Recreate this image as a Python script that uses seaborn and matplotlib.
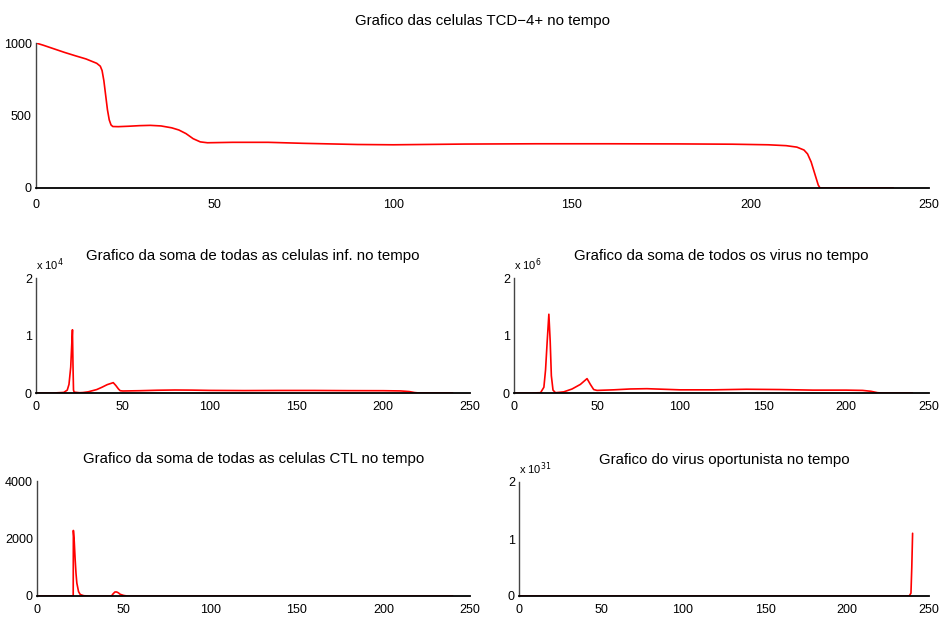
import numpy as np
import pandas as pd
import matplotlib
matplotlib.use("Agg")
import matplotlib.pyplot as plt
import seaborn as sns
from matplotlib.ticker import FuncFormatter

# ---- data ----
t_cd4 = [0, 2, 5, 8, 11, 14, 16, 17, 18, 18.5, 19, 19.5, 20, 20.5, 21, 21.5, 23, 26, 29, 32, 35,
         38, 40, 42, 44, 46, 48, 55, 65, 75, 90, 100, 120, 140, 160, 180, 195, 205, 210, 213,
         215, 216, 217, 218, 219, 219.5, 240]
v_cd4 = [1000, 985, 960, 935, 912, 890, 870, 860, 840, 810, 740, 640, 540, 470, 435, 424, 423, 426,
         430, 432, 428, 415, 400, 375, 340, 318, 312, 315, 315, 308, 300, 298, 303, 305, 305,
         304, 302, 298, 292, 282, 262, 235, 180, 100, 20, 0, 0]

t_inf = [0, 10, 16, 18, 19, 20, 20.6, 21, 21.3, 21.6, 22, 25, 27, 30, 35, 38, 41, 44.5, 46,
         47.5, 48.5, 50, 60, 70, 80, 90, 100, 120, 140, 160, 180, 200, 210, 215, 218, 220, 240]
v_inf = [0, 0, 100, 500, 1500, 4500, 8500, 11000, 5000, 500, 150, 50, 80, 200, 600, 1000, 1450,
         1800, 1300, 700, 400, 350, 400, 480, 520, 500, 450, 420, 440, 440, 410, 400, 360, 250,
         80, 20, 0]

t_vir = [0, 10, 16, 18, 19, 20, 21, 21.8, 22.5, 23.5, 25, 30, 35, 40, 44, 46, 48, 50, 60, 70,
         80, 90, 100, 120, 140, 160, 180, 200, 210, 215, 219, 222, 240]
v_vir = [0, 0, 5e3, 1.0e5, 4.0e5, 9.0e5, 1.37e6, 9.0e5, 3.0e5, 5.0e4, 5e3, 2.0e4, 7.0e4,
         1.5e5, 2.5e5, 1.5e5, 6.0e4, 4.5e4, 5.5e4, 7.0e4, 7.5e4, 6.5e4, 5.5e4, 5.5e4, 6.5e4,
         6.0e4, 5.0e4, 5.0e4, 4.5e4, 3.0e4, 5e3, 0, 0]

t_ctl = [0, 20.9, 21, 21.5, 22, 22.5, 23, 24, 25, 27, 30, 43, 44, 45, 46, 47, 48, 50, 52, 240]
v_ctl = [0, 0, 2280, 1900, 1300, 800, 450, 150, 50, 10, 0, 0, 80, 140, 140, 110, 60, 20, 0, 0]

t_opo = [0, 237, 238, 239, 239.5, 240]
v_opo = [0, 0, 2e28, 5e29, 5e30, 1.1e31]

titles = ["Grafico das celulas TCD\u22124+ no tempo",
          "Grafico da soma de todas as celulas inf. no tempo",
          "Grafico da soma de todos os virus no tempo",
          "Grafico da soma de todas as celulas CTL no tempo",
          "Grafico do virus oportunista no tempo"]
x_ticks = [0, 50, 100, 150, 200, 250]

sns.set_theme(style="white")
plt.rcParams['font.family'] = ['Liberation Sans', 'DejaVu Sans']
plt.rcParams['axes.unicode_minus'] = True
plt.rcParams['text.color'] = 'black'
plt.rcParams['xtick.color'] = 'black'
plt.rcParams['ytick.color'] = 'black'

fig = plt.figure(figsize=(9.39, 6.25), dpi=100)

W, H = 939.0, 625.0
def box(x0, x1, ytop, ybot):
    return [x0 / W, 1 - ybot / H, (x1 - x0) / W, (ybot - ytop) / H]

specs = [
    dict(pos=box(36, 929, 43, 188), t=t_cd4, v=v_cd4, ylim=(0, 1000), yt=[0, 500, 1000],
         scale=1, exp=None, tl=17, xpad=8),
    dict(pos=box(36, 470, 278, 393), t=t_inf, v=v_inf, ylim=(0, 2e4), yt=[0, 1e4, 2e4],
         scale=1e4, exp="4", tl=7, xpad=6),
    dict(pos=box(514, 929, 278, 393), t=t_vir, v=v_vir, ylim=(0, 2e6), yt=[0, 1e6, 2e6],
         scale=1e6, exp="6", tl=7, xpad=6),
    dict(pos=box(37, 470, 481, 596), t=t_ctl, v=v_ctl, ylim=(0, 4000), yt=[0, 2000, 4000],
         scale=1, exp=None, tl=7, xpad=6),
    dict(pos=box(519, 929, 482, 596), t=t_opo, v=v_opo, ylim=(0, 2e31), yt=[0, 1e31, 2e31],
         scale=1e31, exp="31", tl=7, xpad=6),
]

for spec, title in zip(specs, titles):
    ax = fig.add_axes(spec["pos"])
    df = pd.DataFrame({"t": spec["t"], "v": spec["v"]})
    sns.lineplot(data=df, x="t", y="v", ax=ax, color="red", linewidth=1.2,
                 estimator=None, sort=False)
    ax.set_xlim(0, 250)
    ax.set_ylim(*spec["ylim"])
    ax.set_xticks(x_ticks)
    ax.set_yticks(spec["yt"])
    sc = spec["scale"]
    ax.yaxis.set_major_formatter(FuncFormatter(lambda v, p, sc=sc: f"{v / sc:g}"))
    ax.set_xlabel("")
    ax.set_ylabel("")
    ax.set_facecolor("white")
    for s in ["top", "right"]:
        ax.spines[s].set_visible(False)
    ax.spines["bottom"].set_color("black")
    ax.spines["bottom"].set_linewidth(1.3)
    ax.spines["left"].set_color("#444444")
    ax.spines["left"].set_linewidth(1.0)
    ax.tick_params(axis="x", direction="in", length=spec["tl"], width=0.8, color="#555555",
                   labelsize=9, pad=spec["xpad"])
    ax.tick_params(axis="y", direction="in", length=4, width=0.8, color="#555555",
                   labelsize=9, pad=3)
    ax.set_title(title, fontsize=10.8, pad=13, color="black")
    if spec["exp"]:
        ax.text(0.0, 1.04, "x 10$^{%s}$" % spec["exp"], transform=ax.transAxes,
                fontsize=8, ha="left", va="bottom")

fig.savefig("out.png", dpi=100, facecolor="white")
